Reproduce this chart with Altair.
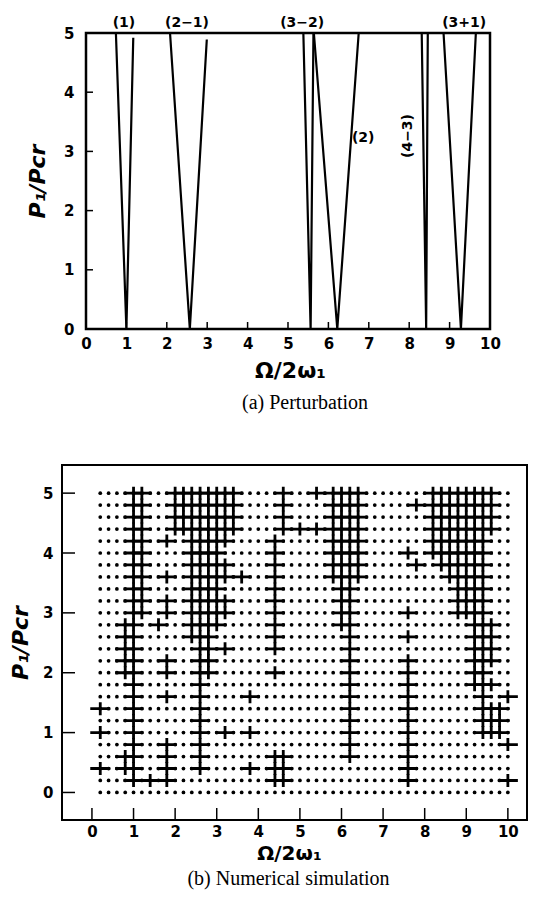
import altair as alt
import pandas as pd

# ================= (a) Perturbation =================
a_xticks = [0, 1, 2, 3, 4, 5, 6, 7, 8, 9, 10]
a_yticks = [0, 1, 2, 3, 4, 5]
a_frame_x = [0, 10]
a_frame_y = [0, 5]

# boundaries of the instability regions (V shapes)
a_line_id = ["1", "1", "1", "2-1", "2-1", "2-1", "3-2", "3-2", "3-2",
             "2", "2", "2", "4-3", "4-3", "4-3", "3+1", "3+1", "3+1"]
a_line_order = [0, 1, 2, 0, 1, 2, 0, 1, 2, 0, 1, 2, 0, 1, 2, 0, 1, 2]
a_line_x = [0.74, 1.00, 1.17, 2.08, 2.57, 2.99, 5.38, 5.56, 5.63,
            5.64, 6.22, 6.75, 8.31, 8.42, 8.46, 8.85, 9.28, 9.65]
a_line_y = [5.0, 0.0, 4.92, 5.0, 0.0, 4.89, 5.0, 0.0, 5.0,
            5.0, 0.0, 5.0, 5.0, 0.0, 5.0, 5.0, 0.0, 5.0]

a_label_text = ["(1)", "(2\u22121)", "(3\u22122)", "(3+1)", "(2)"]
a_label_x = [0.94, 2.50, 5.35, 9.36, 6.86]
a_label_y = [5.17, 5.17, 5.17, 5.17, 3.23]
a_vlabel_text = ["(4\u22123)"]
a_vlabel_x = [7.97]
a_vlabel_y = [3.26]

# ================= (b) Numerical simulation =================
b_xticks = [0, 1, 2, 3, 4, 5, 6, 7, 8, 9, 10]
b_yticks = [0, 1, 2, 3, 4, 5]
grid_x = [0.2, 0.4, 0.6, 0.8, 1.0, 1.2, 1.4, 1.6, 1.8, 2.0,
          2.2, 2.4, 2.6, 2.8, 3.0, 3.2, 3.4, 3.6, 3.8, 4.0,
          4.2, 4.4, 4.6, 4.8, 5.0, 5.2, 5.4, 5.6, 5.8, 6.0,
          6.2, 6.4, 6.6, 6.8, 7.0, 7.2, 7.4, 7.6, 7.8, 8.0,
          8.2, 8.4, 8.6, 8.8, 9.0, 9.2, 9.4, 9.6, 9.8, 10.0]
grid_y = [0.0, 0.2, 0.4, 0.6, 0.8, 1.0, 1.2, 1.4, 1.6, 1.8, 2.0, 2.2, 2.4,
          2.6, 2.8, 3.0, 3.2, 3.4, 3.6, 3.8, 4.0, 4.2, 4.4, 4.6, 4.8, 5.0]

# unstable points (crosses), one list per row
row_5_0 = [1.0, 1.2, 2.0, 2.2, 2.4, 2.6, 2.8, 3.0, 3.2, 3.4, 4.6, 5.4, 5.8, 6.0, 6.2, 6.4,
           8.2, 8.4, 8.6, 8.8, 9.0, 9.2, 9.4, 9.6]
row_4_8 = [1.0, 1.2, 2.0, 2.2, 2.4, 2.6, 2.8, 3.0, 3.2, 3.4, 4.6, 5.8, 6.0, 6.2, 6.4, 7.8,
           8.2, 8.4, 8.6, 8.8, 9.0, 9.2, 9.4, 9.6]
row_4_6 = [1.0, 1.2, 2.0, 2.2, 2.4, 2.6, 2.8, 3.0, 3.2, 3.4, 4.6, 5.8, 6.0, 6.2, 6.4,
           8.2, 8.4, 8.6, 8.8, 9.0, 9.2, 9.4, 9.6]
row_4_4 = [1.0, 1.2, 2.0, 2.2, 2.4, 2.6, 2.8, 3.0, 3.2, 3.4, 4.6, 5.0, 5.4, 5.8, 6.0, 6.2, 6.4,
           8.2, 8.4, 8.6, 8.8, 9.0, 9.2, 9.4, 9.6]
row_4_2 = [1.0, 1.2, 1.8, 2.4, 2.6, 2.8, 3.0, 3.2, 4.4, 5.8, 6.0, 6.2, 6.4,
           8.2, 8.4, 8.6, 8.8, 9.0, 9.2, 9.4]
row_4_0 = [1.0, 1.2, 2.4, 2.6, 2.8, 3.0, 4.4, 5.8, 6.0, 6.2, 6.4, 7.6,
           8.2, 8.4, 8.6, 8.8, 9.0, 9.2, 9.4]
row_3_8 = [1.0, 1.2, 2.4, 2.6, 2.8, 3.0, 3.2, 4.4, 5.8, 6.0, 6.2, 6.4, 7.8,
           8.4, 8.6, 8.8, 9.0, 9.2, 9.4]
row_3_6 = [1.0, 1.2, 1.8, 2.4, 2.6, 2.8, 3.0, 3.2, 3.6, 4.4, 5.8, 6.0, 6.2, 6.4,
           8.6, 8.8, 9.0, 9.2, 9.4]
row_3_4 = [1.0, 1.2, 2.4, 2.6, 2.8, 3.0, 4.4, 6.0, 6.2, 8.8, 9.0, 9.2, 9.4]
row_3_2 = [1.0, 1.2, 1.8, 2.4, 2.6, 2.8, 3.0, 3.2, 4.4, 6.0, 6.2, 8.8, 9.0, 9.2, 9.4]
row_3_0 = [1.0, 1.2, 1.8, 2.4, 2.6, 2.8, 3.0, 3.2, 4.4, 6.0, 6.2, 7.6, 8.8, 9.0, 9.2, 9.4]
row_2_8 = [0.8, 1.0, 1.6, 2.4, 2.6, 2.8, 3.0, 4.4, 6.0, 6.2, 9.2, 9.4, 9.6]
row_2_6 = [0.8, 1.0, 2.4, 2.6, 2.8, 4.4, 6.2, 7.6, 9.2, 9.4, 9.6]
row_2_4 = [0.8, 1.0, 2.6, 2.8, 3.2, 4.4, 6.2, 9.2, 9.4, 9.6]
row_2_2 = [0.8, 1.0, 1.8, 2.6, 2.8, 6.2, 7.6, 9.2, 9.4, 9.6]
row_2_0 = [0.8, 1.0, 1.8, 2.6, 2.8, 4.4, 6.2, 7.6, 9.2, 9.4]
row_1_8 = [1.0, 2.6, 6.2, 7.6, 9.2, 9.4, 9.6]
row_1_6 = [1.0, 1.8, 2.6, 3.8, 6.2, 7.6, 9.4, 10.0]
row_1_4 = [0.2, 1.0, 2.6, 6.2, 7.6, 9.4, 9.6, 9.8]
row_1_2 = [1.0, 2.6, 6.2, 7.6, 9.4, 9.6, 9.8]
row_1_0 = [0.2, 1.0, 2.6, 3.2, 3.8, 6.2, 7.6, 9.4, 9.6, 9.8]
row_0_8 = [1.0, 1.8, 2.6, 6.2, 7.6, 10.0]
row_0_6 = [0.8, 1.0, 1.8, 2.6, 4.4, 4.6, 6.2, 7.6]
row_0_4 = [0.2, 0.8, 1.0, 1.8, 2.6, 3.8, 4.4, 4.6, 7.6]
row_0_2 = [1.0, 1.4, 1.8, 4.4, 4.6, 7.6, 10.0]

row_y = [5.0, 4.8, 4.6, 4.4, 4.2, 4.0, 3.8, 3.6, 3.4, 3.2, 3.0, 2.8, 2.6,
         2.4, 2.2, 2.0, 1.8, 1.6, 1.4, 1.2, 1.0, 0.8, 0.6, 0.4, 0.2]
row_x = [row_5_0, row_4_8, row_4_6, row_4_4, row_4_2, row_4_0, row_3_8, row_3_6,
         row_3_4, row_3_2, row_3_0, row_2_8, row_2_6, row_2_4, row_2_2, row_2_0,
         row_1_8, row_1_6, row_1_4, row_1_2, row_1_0, row_0_8, row_0_6, row_0_4, row_0_2]

# ---------------- tables ----------------
lines_df = pd.DataFrame({"id": a_line_id, "o": a_line_order, "x": a_line_x, "y": a_line_y})
frame_df = pd.DataFrame({"x": [a_frame_x[0]], "x2": [a_frame_x[1]],
                         "y": [a_frame_y[0]], "y2": [a_frame_y[1]]})
labels_df = pd.DataFrame({"t": a_label_text, "x": a_label_x, "y": a_label_y})
vlabel_df = pd.DataFrame({"t": a_vlabel_text, "x": a_vlabel_x, "y": a_vlabel_y})
a_xt_df = pd.DataFrame({"x": a_xticks[1:-1], "y": [a_frame_y[0]] * len(a_xticks[1:-1])})
a_yt_df = pd.DataFrame({"x": [a_frame_x[0]] * len(a_yticks[1:-1]), "y": a_yticks[1:-1]})

dots_df = pd.DataFrame([(x, y) for y in grid_y for x in grid_x], columns=["x", "y"])
cross_df = pd.DataFrame([(x, y) for y, xs in zip(row_y, row_x) for x in xs], columns=["x", "y"])
b_xt_df = pd.DataFrame({"x": b_xticks})
b_yt_df = pd.DataFrame({"y": b_yticks})

FONT = "DejaVu Sans"
ax_common = dict(domain=False, ticks=False, grid=False, labelFontSize=15,
                 labelFontWeight="bold", labelFont=FONT, labelColor="black",
                 labelFlush=False, labelOverlap=False, titleFont=FONT,
                 titleColor="black", titleFontWeight="bold", format="d")

# ---------------- panel (a) ----------------
ta_x = alt.X("x:Q", scale=alt.Scale(domain=[-0.594, 10], nice=False, zero=False),
             axis=alt.Axis(values=a_xticks, labelPadding=7, title="\u03a9/2\u03c9\u2081",
                           titleX=228, titleY=41, titleBaseline="middle", titleAlign="center",
                           titleFontSize=22, **ax_common))
ta_y = alt.Y("y:Q", scale=alt.Scale(domain=[0, 5], nice=False, zero=False),
             axis=alt.Axis(values=a_yticks, offset=-24, labelPadding=12, title="P\u2081/Pcr",
                           titleFontStyle="italic", titlePadding=14, titleFontSize=22,
                           **ax_common))

frame = alt.Chart(frame_df).mark_rect(color="black", fillOpacity=0, stroke="black",
                                      strokeWidth=2.5).encode(
    x=ta_x, x2="x2:Q", y=ta_y, y2="y2:Q")
lines = alt.Chart(lines_df).mark_line(color="black", strokeWidth=2.2).encode(
    x=ta_x, y=ta_y, detail="id:N", order="o:Q")
a_xt = alt.Chart(a_xt_df).mark_rule(color="black", strokeWidth=1.5, y2Offset=-7).encode(
    x=ta_x, y=ta_y, y2="y:Q")
a_yt = alt.Chart(a_yt_df).mark_rule(color="black", strokeWidth=1.5, x2Offset=7).encode(
    x=ta_x, x2="x:Q", y=ta_y)
labels = alt.Chart(labels_df).mark_text(font=FONT, fontWeight="bold", fontSize=14,
                                        color="black").encode(x=ta_x, y=ta_y, text="t:N")
vlabel = alt.Chart(vlabel_df).mark_text(font=FONT, fontWeight="bold", fontSize=14,
                                        color="black", angle=270).encode(
    x=ta_x, y=ta_y, text="t:N")

top = alt.layer(frame, lines, a_xt, a_yt, labels, vlabel).properties(
    width=428, height=296,
    title=alt.TitleParams("(a) Perturbation", orient="bottom", anchor="middle", dx=29,
                          font="Liberation Serif", fontSize=20, fontWeight="normal",
                          color="black", offset=12))

# ---------------- panel (b) ----------------
tb_x = alt.X("x:Q", scale=alt.Scale(domain=[-0.72, 10.46], nice=False, zero=False),
             axis=alt.Axis(values=b_xticks, labelPadding=4, title="\u03a9/2\u03c9\u2081",
                           titleX=227, titleY=33, titleBaseline="middle", titleAlign="center",
                           titleFontSize=20, **ax_common))
tb_y = alt.Y("y:Q", scale=alt.Scale(domain=[-0.46, 5.47], nice=False, zero=False),
             axis=alt.Axis(values=b_yticks, labelPadding=9, title="P\u2081/Pcr",
                           titleFontStyle="italic", titlePadding=10, titleFontSize=22,
                           **ax_common))

CROSS = "M-1,0L1,0M0,-0.65L0,0.65"
dots = alt.Chart(dots_df).mark_circle(size=14, color="black", opacity=1).encode(x=tb_x, y=tb_y)
crosses = alt.Chart(cross_df).mark_point(shape=CROSS, size=400, strokeWidth=2.8, color="black",
                                         filled=False, opacity=1).encode(x=tb_x, y=tb_y)
b_xt = alt.Chart(b_xt_df).mark_rule(color="black", strokeWidth=1.5).encode(
    x=tb_x, y=alt.value(355), y2=alt.value(343))
b_yt = alt.Chart(b_yt_df).mark_rule(color="black", strokeWidth=1.5).encode(
    y=tb_y, x=alt.value(0), x2=alt.value(13))

bottom = alt.layer(dots, crosses, b_xt, b_yt).properties(
    width=465, height=355,
    view=alt.ViewBackground(stroke="black", strokeWidth=2),
    title=alt.TitleParams("(b) Numerical simulation", orient="bottom", anchor="middle", dx=-6,
                          font="Liberation Serif", fontSize=20, fontWeight="normal",
                          color="black", offset=6))

chart = alt.vconcat(top, bottom, spacing=50).properties(
    padding={"left": 8, "top": 15, "right": 5, "bottom": 5},
    background="white",
).configure_view(stroke="transparent")

chart.save("out.html", embed_options={"renderer": "svg", "actions": False})
